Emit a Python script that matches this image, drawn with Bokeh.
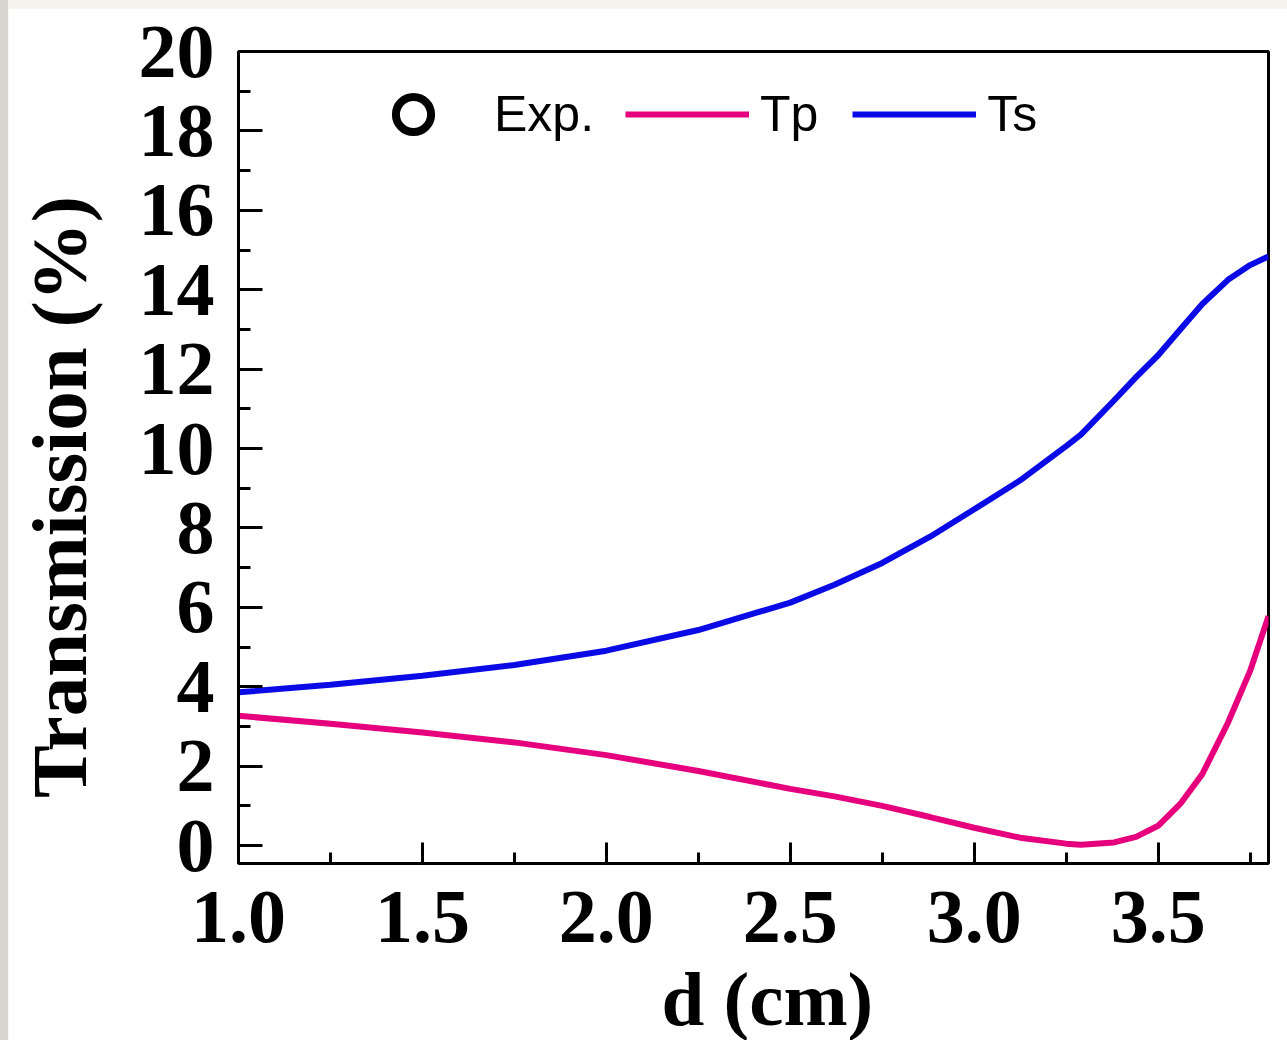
from bokeh.plotting import figure
from bokeh.models import (FixedTicker, NumeralTickFormatter, Legend, LegendItem,
                          Title, Range1d)
from bokeh.embed import file_html
from bokeh.resources import INLINE

# ---------------- data ----------------
d_cm = [1.0, 1.25, 1.5, 1.75, 2.0, 2.25, 2.5, 2.62, 2.75, 2.88, 3.0, 3.125,
        3.25, 3.29, 3.38, 3.44, 3.5, 3.56, 3.62, 3.69, 3.75, 3.8]
Ts = [3.86, 4.05, 4.28, 4.55, 4.91, 5.43, 6.12, 6.57, 7.12, 7.78, 8.47, 9.2,
      10.06, 10.35, 11.21, 11.8, 12.35, 13.0, 13.64, 14.25, 14.62, 14.84]
Tp = [3.27, 3.07, 2.85, 2.6, 2.28, 1.88, 1.43, 1.24, 1.0, 0.72, 0.45, 0.2,
      0.05, 0.02, 0.08, 0.22, 0.5, 1.05, 1.8, 3.1, 4.4, 5.78]
# "Exp." appears only in the legend: no measured point is visible in the figure
exp_x = [float("nan")]
exp_y = [float("nan")]

x_major = [1.0, 1.5, 2.0, 2.5, 3.0, 3.5]
x_minor = [1.25, 1.75, 2.25, 2.75, 3.25, 3.75]
y_major = [0, 2, 4, 6, 8, 10, 12, 14, 16, 18, 20]
y_minor = [1, 3, 5, 7, 9, 11, 13, 15, 17, 19]

TP_COLOR = "#E6007E"
TS_COLOR = "#0A0AE6"
SERIF = "Liberation Serif"
SANS = "Liberation Sans"

p = figure(width=1279, height=1100, output_backend="svg", toolbar_location=None,
           x_range=Range1d(1.0, 3.8), y_range=Range1d(-0.45, 20))
p.min_border_left = 230
p.min_border_right = 19
p.min_border_top = 43
p.min_border_bottom = 245
p.background_fill_color = "white"
p.border_fill_color = "white"
p.outline_line_color = "black"
p.outline_line_width = 3
p.xgrid.visible = False
p.ygrid.visible = False

for ax, maj, mnr in ((p.xaxis[0], x_major, x_minor), (p.yaxis[0], y_major, y_minor)):
    ax.ticker = FixedTicker(ticks=maj, minor_ticks=mnr)
    ax.axis_line_width = 3
    ax.axis_line_color = "black"
    ax.major_tick_line_width = 3
    ax.minor_tick_line_width = 3
    ax.major_tick_line_color = "black"
    ax.minor_tick_line_color = "black"
    ax.major_tick_out = 0
    ax.minor_tick_out = 0
    ax.major_label_text_font = SERIF
    ax.major_label_text_font_style = "bold"
    ax.major_label_text_font_size = "76px"
    ax.major_label_text_color = "black"

p.xaxis[0].major_tick_in = 21
p.xaxis[0].minor_tick_in = 11
p.yaxis[0].major_tick_in = 24
p.yaxis[0].minor_tick_in = 12
p.xaxis[0].formatter = NumeralTickFormatter(format="0.0")
p.xaxis[0].major_label_standoff = 28
p.yaxis[0].major_label_standoff = 24

# y-axis title (trailing no-break spaces shift the centred title down as in the original)
p.yaxis[0].axis_label = "Transmission (%)" + "\u00a0" * 4
p.yaxis[0].axis_label_standoff = 33
p.yaxis[0].axis_label_text_font = SERIF
p.yaxis[0].axis_label_text_font_style = "bold"
p.yaxis[0].axis_label_text_font_size = "79px"
p.yaxis[0].axis_label_text_color = "black"

# ---------------- series ----------------
exp_r = p.scatter(x=exp_x, y=exp_y, marker="circle", size=36, fill_color=None,
                  line_color="black", line_width=8)
tp_r = p.line(d_cm, Tp, line_color=TP_COLOR, line_width=6)
ts_r = p.line(d_cm, Ts, line_color=TS_COLOR, line_width=6)

# ---------------- legends ----------------
common = dict(orientation="horizontal", padding=0, margin=0, border_line_color=None,
              background_fill_alpha=0, label_text_font=SANS,
              label_text_font_size="50px", label_text_color="black")
leg1 = Legend(items=[LegendItem(label="Exp.", renderers=[exp_r])], location=(131, 705),
              glyph_width=88, glyph_height=88, label_standoff=37, **common)
leg2 = Legend(items=[LegendItem(label="Tp", renderers=[tp_r]),
                     LegendItem(label="Ts", renderers=[ts_r])],
              location=(387, 705), glyph_width=124, glyph_height=88,
              label_standoff=11, spacing=34, **common)
p.add_layout(leg1)
p.add_layout(leg2)

# ---------------- x-axis title ----------------
p.add_layout(Title(text="d (cm)", align="left", offset=423,
                   vertical_align="top", standoff=23, text_font=SERIF,
                   text_font_style="bold", text_font_size="77px",
                   text_color="black"), "below")

html = file_html(p, INLINE)
html = html.replace(
    "</head>",
    "<style>html{overflow:hidden !important;"
    "background:linear-gradient(90deg,#d8d4d0 0 8px,#f4f3ee 8px) !important;}"
    "body{overflow:hidden !important;padding:8px 0 0 8px !important;}</style></head>", 1)
open("out.html", "w").write(html)
